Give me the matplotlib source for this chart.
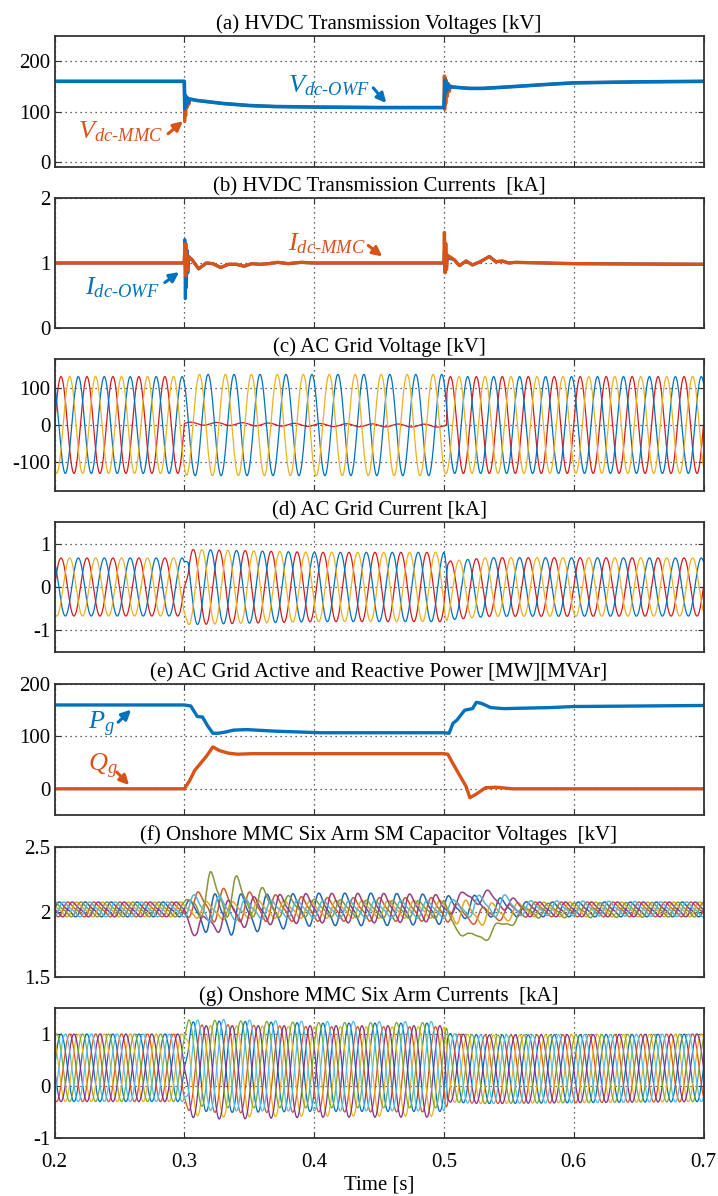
import numpy as np
import matplotlib
matplotlib.use('Agg')
import matplotlib.pyplot as plt

# fontes tipo Times, como no MATLAB
plt.rcParams['font.family'] = ['Liberation Serif', 'DejaVu Serif']
plt.rcParams['mathtext.fontset'] = 'custom'
plt.rcParams['mathtext.rm'] = 'Liberation Serif'
plt.rcParams['mathtext.it'] = 'Liberation Serif:italic'
plt.rcParams['axes.unicode_minus'] = False

# cores (paleta padrao do MATLAB)
BLUE = '#0072BD'
ORANGE = '#D95319'
YELLOW = '#EDB120'
RED = '#D7191C'
PURPLE = '#7E2F8E'
GREEN = '#77AC30'
CYAN = '#4DBEEE'

# ---------------- dados ----------------
time_ticks = [0.2, 0.3, 0.4, 0.5, 0.6, 0.7]
time_labels = ['0.2', '0.3', '0.4', '0.5', '0.6', '0.7']

titles = ['(a) HVDC Transmission Voltages [kV]',
          '(b) HVDC Transmission Currents  [kA]',
          '(c) AC Grid Voltage [kV]',
          '(d) AC Grid Current [kA]',
          '(e) AC Grid Active and Reactive Power [MW][MVAr]',
          '(f) Onshore MMC Six Arm SM Capacitor Voltages  [kV]',
          '(g) Onshore MMC Six Arm Currents  [kA]']

yticks_list = [[0, 100, 200], [0, 1, 2], [-100, 0, 100], [-1, 0, 1],
               [0, 100, 200], [1.5, 2, 2.5], [-1, 0, 1]]
ylabels_list = [['0', '100', '200'], ['0', '1', '2'], ['-100', '0', '100'],
                ['-1', '0', '1'], ['0', '100', '200'], ['1.5', '2', '2.5'],
                ['-1', '0', '1']]
ylims = [(-10, 250), (0, 2), (-180, 180), (-1.5, 1.5), (-50, 200), (1.5, 2.5), (-1, 1.5)]

# (a) tensoes DC
vdc_owf_t = [0.200, 0.300, 0.3004, 0.3008, 0.3012, 0.3016, 0.3020, 0.3025, 0.3030, 0.3038,
             0.306, 0.31, 0.32, 0.33, 0.34, 0.35, 0.36, 0.37, 0.40, 0.45,
             0.500, 0.5004, 0.5008, 0.5012, 0.5016, 0.5020, 0.5025, 0.5030, 0.5038, 0.5048,
             0.506, 0.51, 0.52, 0.53, 0.55, 0.58, 0.60, 0.65, 0.70]
vdc_owf_kv = [160, 160, 106, 132, 112, 129, 115, 127, 118, 125,
              124, 122, 119, 116, 114, 112, 111, 110, 109, 108,
              108, 135, 162, 138, 158, 142, 155, 145, 152, 148,
              149, 148, 146, 146, 149, 154, 157, 159, 160]
vdc_mmc_t = [0.200, 0.300, 0.3003, 0.3007, 0.3011, 0.3016, 0.3021, 0.3027, 0.3035, 0.3045,
             0.306, 0.31, 0.32, 0.33, 0.34, 0.35, 0.36, 0.37, 0.40, 0.45,
             0.500, 0.5003, 0.5007, 0.5011, 0.5015, 0.5020, 0.5026, 0.5033, 0.5042, 0.5052,
             0.506, 0.51, 0.52, 0.53, 0.55, 0.58, 0.60, 0.65, 0.70]
vdc_mmc_kv = [160, 160, 80, 125, 92, 128, 108, 126, 114, 124,
              124, 122, 119, 116, 114, 112, 111, 110, 109, 108,
              108, 171, 104, 168, 116, 162, 130, 156, 140, 151,
              149, 148, 146, 146, 149, 154, 157, 159, 160]

# (b) correntes DC
idc_owf_t = [0.200, 0.300, 0.3004, 0.3008, 0.3012, 0.3016, 0.3021, 0.3027, 0.3035,
             0.306, 0.311, 0.317, 0.322, 0.328, 0.334, 0.340, 0.346, 0.352, 0.358,
             0.365, 0.372, 0.380, 0.390, 0.400, 0.450, 0.500,
             0.5004, 0.5008, 0.5013, 0.5019, 0.5026, 0.508, 0.512, 0.517, 0.522,
             0.528, 0.535, 0.540, 0.545, 0.550, 0.555, 0.600, 0.700]
idc_owf_ka = [1.00, 1.00, 1.36, 0.45, 1.30, 0.62, 1.20, 0.85, 1.10,
              1.05, 0.91, 1.00, 0.99, 0.93, 0.98, 0.98, 0.95, 0.99, 0.98,
              0.99, 1.01, 0.99, 1.01, 1.00, 1.00, 1.00,
              1.20, 0.88, 1.15, 0.92, 1.08, 1.05, 0.96, 1.03, 0.97,
              1.02, 1.10, 1.02, 1.03, 1.00, 1.01, 0.99, 0.98]
idc_mmc_t = [0.200, 0.300, 0.3005, 0.3010, 0.3016, 0.3022, 0.3030,
             0.306, 0.311, 0.317, 0.322, 0.328, 0.334, 0.340, 0.346, 0.352, 0.358,
             0.365, 0.372, 0.380, 0.390, 0.400, 0.450, 0.500,
             0.5004, 0.5009, 0.5014, 0.5020, 0.5027, 0.508, 0.512, 0.517, 0.522,
             0.528, 0.535, 0.540, 0.545, 0.550, 0.555, 0.600, 0.700]
idc_mmc_ka = [1.00, 1.00, 1.30, 0.80, 1.22, 0.88, 1.10,
              1.05, 0.91, 1.00, 0.99, 0.93, 0.98, 0.98, 0.95, 0.99, 0.98,
              0.99, 1.01, 0.99, 1.01, 1.00, 1.00, 1.00,
              1.47, 0.85, 1.30, 0.90, 1.12, 1.05, 0.96, 1.03, 0.97,
              1.02, 1.10, 1.02, 1.03, 1.00, 1.01, 0.99, 0.98]

# (c) tensao da rede: fases vermelha, azul, amarela
grid_freq = 50.0
vg_phase_deg = [0, 120, -120]
vg_colors = [RED, BLUE, YELLOW]
vg_amp_t = [0.2, 0.3, 0.302, 0.5, 0.502, 0.7]
vg_amp_kv = [132, 132, 138, 138, 132, 132]
fault_start = 0.300
fault_end = 0.5022
vg_red_fault_t = [0.300, 0.40, 0.50]
vg_red_fault_mean = [4, 0, -2]
vg_red_fault_ripple = 4

# (d) corrente da rede
ig_amp_t = [0.2, 0.3, 0.303, 0.33, 0.40, 0.50, 0.504, 0.7]
ig_amp_ka = [0.67, 0.67, 0.87, 0.85, 0.80, 0.80, 0.68, 0.67]
ig_lag_t = [0.2, 0.3, 0.303, 0.5, 0.503, 0.7]
ig_lag_deg = [0, 0, 34, 34, 0, 0]
ig_off_t = [0.2, 0.5, 0.504, 0.535, 0.7]
ig_off_ka = [0, 0, -0.08, 0, 0]

# (e) potencias
p_t = [0.200, 0.300, 0.305, 0.310, 0.314, 0.318, 0.322, 0.326, 0.331, 0.338, 0.348,
       0.370, 0.405, 0.500, 0.504, 0.507, 0.510, 0.516, 0.522, 0.525, 0.529, 0.536,
       0.546, 0.582, 0.600, 0.650, 0.700]
p_mw = [160, 160, 158, 138, 137, 120, 106, 106, 108, 112, 113,
        110, 107, 107, 106, 125, 131, 150, 153, 165, 163, 155,
        153, 155, 157, 158, 159]
q_t = [0.200, 0.300, 0.304, 0.308, 0.313, 0.317, 0.322, 0.327, 0.334, 0.341, 0.352,
       0.500, 0.503, 0.507, 0.513, 0.517, 0.520, 0.525, 0.532, 0.540, 0.553, 0.700]
q_mvar = [0, 0, 15, 35, 50, 62, 80, 73, 68, 66, 67,
          67, 66, 48, 22, 5, -17, -10, 2, 3, 0, 0]

# (f) tensoes dos capacitores (6 bracos): deslocamento e amplitude
capv_t = [0.2, 0.3, 0.31, 0.32, 0.335, 0.35, 0.37, 0.40, 0.45, 0.50,
          0.51, 0.52, 0.535, 0.55, 0.565, 0.7]
capv_colors = ['#1F66B0', '#CC5A32', '#E3A52A', '#9A3D7F', '#86963A', '#58B4CF']
capv_phase_deg = [0, -120, 120, 180, 60, -60]
capv_off = [
    [2.02, 2.02, 2.00, 1.98, 1.98, 1.99, 2.00, 2.02, 2.02, 2.02, 2.03, 2.04, 2.04, 2.03, 2.02, 2.02],
    [2.02, 2.02, 2.05, 2.06, 2.05, 2.04, 2.03, 2.02, 2.02, 2.02, 1.99, 1.97, 1.98, 2.00, 2.02, 2.02],
    [2.02, 2.02, 2.02, 2.01, 2.01, 2.02, 2.02, 2.02, 2.02, 2.02, 2.01, 1.98, 1.99, 2.00, 2.02, 2.02],
    [2.02, 2.02, 1.84, 1.93, 1.98, 2.00, 2.02, 2.03, 2.03, 2.03, 2.08, 2.12, 2.11, 2.06, 2.02, 2.02],
    [2.02, 2.02, 2.10, 2.14, 2.13, 2.10, 2.05, 2.03, 2.02, 2.02, 1.88, 1.80, 1.83, 1.93, 2.01, 2.02],
    [2.02, 2.02, 2.04, 2.03, 2.02, 2.02, 2.02, 2.02, 2.02, 2.02, 2.03, 2.04, 2.05, 2.05, 2.03, 2.02],
]
capv_amp = [
    [0.05, 0.05, 0.10, 0.14, 0.14, 0.13, 0.12, 0.11, 0.11, 0.10, 0.07, 0.08, 0.07, 0.06, 0.05, 0.05],
    [0.05, 0.05, 0.09, 0.12, 0.11, 0.10, 0.09, 0.08, 0.08, 0.08, 0.07, 0.06, 0.05, 0.05, 0.05, 0.05],
    [0.05, 0.05, 0.06, 0.06, 0.06, 0.06, 0.06, 0.06, 0.06, 0.06, 0.09, 0.09, 0.07, 0.06, 0.05, 0.05],
    [0.05, 0.05, 0.07, 0.09, 0.10, 0.10, 0.10, 0.10, 0.10, 0.09, 0.05, 0.05, 0.05, 0.05, 0.05, 0.05],
    [0.05, 0.05, 0.12, 0.15, 0.15, 0.12, 0.08, 0.06, 0.06, 0.06, 0.03, 0.03, 0.04, 0.04, 0.05, 0.05],
    [0.05, 0.05, 0.10, 0.09, 0.08, 0.07, 0.06, 0.06, 0.06, 0.06, 0.06, 0.07, 0.08, 0.07, 0.05, 0.05],
]
capv_harm2 = 0.3

# (g) correntes dos bracos
arm_t = [0.2, 0.3, 0.303, 0.33, 0.40, 0.50, 0.504, 0.53, 0.7]
arm_colors = [BLUE, ORANGE, YELLOW, PURPLE, GREEN, CYAN]
arm_phase_deg = [0, -120, 120, 180, 60, -60]
arm_off = [
    [0.35, 0.35, 0.38, 0.37, 0.36, 0.36, 0.35, 0.32, 0.35],
    [0.35, 0.35, 0.35, 0.33, 0.32, 0.32, 0.35, 0.32, 0.35],
    [0.35, 0.35, 0.30, 0.28, 0.28, 0.28, 0.35, 0.32, 0.35],
    [0.35, 0.35, 0.28, 0.26, 0.28, 0.28, 0.35, 0.32, 0.35],
    [0.35, 0.35, 0.45, 0.42, 0.40, 0.40, 0.35, 0.32, 0.35],
    [0.35, 0.35, 0.40, 0.40, 0.38, 0.38, 0.35, 0.32, 0.35],
]
arm_amp = [
    [0.65, 0.65, 0.85, 0.88, 0.85, 0.85, 0.66, 0.66, 0.65],
    [0.65, 0.65, 0.82, 0.85, 0.82, 0.82, 0.66, 0.66, 0.65],
    [0.65, 0.65, 0.86, 0.88, 0.86, 0.86, 0.66, 0.66, 0.65],
    [0.65, 0.65, 0.88, 0.90, 0.88, 0.88, 0.66, 0.66, 0.65],
    [0.65, 0.65, 0.82, 0.84, 0.82, 0.82, 0.66, 0.66, 0.65],
    [0.65, 0.65, 0.86, 0.88, 0.86, 0.86, 0.66, 0.66, 0.65],
]

# ---------------- figura ----------------
t = np.linspace(0.2, 0.7, 10001)
w = 2 * np.pi * grid_freq
theta = w * (t - 0.2)

fig = plt.figure(figsize=(7.18, 11.96), dpi=100)
panel_px = [(36, 167), (198, 328), (359, 491), (522, 652), (684, 815), (847, 977), (1008, 1138)]
axs = []
for top, bot in panel_px:
    axs.append(fig.add_axes([54.5 / 718, 1 - bot / 1196, 649 / 718, (bot - top) / 1196]))

for i, ax in enumerate(axs):
    ax.set_xlim(0.2, 0.7)
    ax.set_ylim(ylims[i])
    ax.set_xticks(time_ticks)
    ax.set_yticks(yticks_list[i])
    ax.set_yticklabels(ylabels_list[i])
    if i < 6:
        ax.set_xticklabels([])
    else:
        ax.set_xticklabels(time_labels)
    ax.grid(True, linestyle=(0, (1, 3)), color='#333333', linewidth=0.9)
    ax.tick_params(direction='in', top=True, right=True, length=4, width=0.8,
                   labelsize=15, pad=3, color='#333333')
    for sp in ax.spines.values():
        sp.set_color('#333333')
        sp.set_linewidth(1.3)
    ax.set_title(titles[i], fontsize=15, pad=5)

axs[6].tick_params(axis='x', pad=11)
axs[6].set_xlabel('Time [s]', fontsize=15, labelpad=2)

arrow_kw = dict(arrowstyle='-|>', lw=2.2, mutation_scale=14, shrinkA=0, shrinkB=0)

# (a)
ax = axs[0]
ax.plot(vdc_mmc_t, vdc_mmc_kv, color=ORANGE, lw=2.2)
ax.plot(vdc_owf_t, vdc_owf_kv, color=BLUE, lw=2.6)
ax.text(0.443, 152, '$V_{dc\u2010OWF}$', color=BLUE, fontsize=19, ha='right', va='center')
ax.annotate('', xy=(0.4556, 117), xytext=(0.4456, 147), arrowprops=dict(color=BLUE, **arrow_kw))
ax.text(0.2836, 60, '$V_{dc\u2010MMC}$', color=ORANGE, fontsize=19, ha='right', va='center')
ax.annotate('', xy=(0.299, 81), xytext=(0.2875, 56), arrowprops=dict(color=ORANGE, **arrow_kw))

# (b)
ax = axs[1]
ax.plot(idc_owf_t, idc_owf_ka, color=BLUE, lw=2.2)
ax.plot(idc_mmc_t, idc_mmc_ka, color=ORANGE, lw=2.4)
ax.text(0.281, 0.62, '$I_{dc\u2010OWF}$', color=BLUE, fontsize=19, ha='right', va='center')
ax.annotate('', xy=(0.296, 0.86), xytext=(0.285, 0.70), arrowprops=dict(color=BLUE, **arrow_kw))
ax.text(0.4395, 1.30, '$I_{dc\u2010MMC}$', color=ORANGE, fontsize=19, ha='right', va='center')
ax.annotate('', xy=(0.4525, 1.10), xytext=(0.4417, 1.27), arrowprops=dict(color=ORANGE, **arrow_kw))

# (c)
ax = axs[2]
amp_v = np.interp(t, vg_amp_t, vg_amp_kv)
fault = (t >= fault_start) & (t < fault_end)
for ph, col in zip(vg_phase_deg, vg_colors):
    v = amp_v * np.sin(theta + np.deg2rad(ph))
    if ph == 0:
        resid = np.interp(t, vg_red_fault_t, vg_red_fault_mean) + vg_red_fault_ripple * np.sin(theta)
        v = np.where(fault, resid, v)
    ax.plot(t, v, color=col, lw=0.9)

# (d)
ax = axs[3]
amp_i = np.interp(t, ig_amp_t, ig_amp_ka)
lag_i = np.deg2rad(np.interp(t, ig_lag_t, ig_lag_deg))
off_i = np.interp(t, ig_off_t, ig_off_ka)
for ph, col in zip(vg_phase_deg, vg_colors):
    ax.plot(t, off_i + amp_i * np.sin(theta + np.deg2rad(ph) - lag_i), color=col, lw=0.9)

# (e)
ax = axs[4]
ax.plot(p_t, p_mw, color=BLUE, lw=2.4)
ax.plot(q_t, q_mvar, color=ORANGE, lw=2.4)
ax.text(0.226, 122, '$P_g$', color=BLUE, fontsize=19, ha='left', va='center')
ax.annotate('', xy=(0.259, 151), xytext=(0.249, 127), arrowprops=dict(color=BLUE, **arrow_kw))
ax.text(0.226, 42, '$Q_g$', color=ORANGE, fontsize=19, ha='left', va='center')
ax.annotate('', xy=(0.2575, 7), xytext=(0.248, 32), arrowprops=dict(color=ORANGE, **arrow_kw))

# (f)
ax = axs[5]
for k in range(6):
    off = np.interp(t, capv_t, capv_off[k])
    amp = np.interp(t, capv_t, capv_amp[k])
    ph = np.deg2rad(capv_phase_deg[k])
    v = off + amp * (np.sin(theta + ph) + capv_harm2 * np.sin(2 * theta + 2 * ph))
    ax.plot(t, v, color=capv_colors[k], lw=1.1)

# (g)
ax = axs[6]
for k in range(6):
    off = np.interp(t, arm_t, arm_off[k])
    amp = np.interp(t, arm_t, arm_amp[k])
    ph = np.deg2rad(arm_phase_deg[k])
    ax.plot(t, off + amp * np.sin(theta + ph - lag_i), color=arm_colors[k], lw=0.9)

fig.savefig('out.png', dpi=100)
